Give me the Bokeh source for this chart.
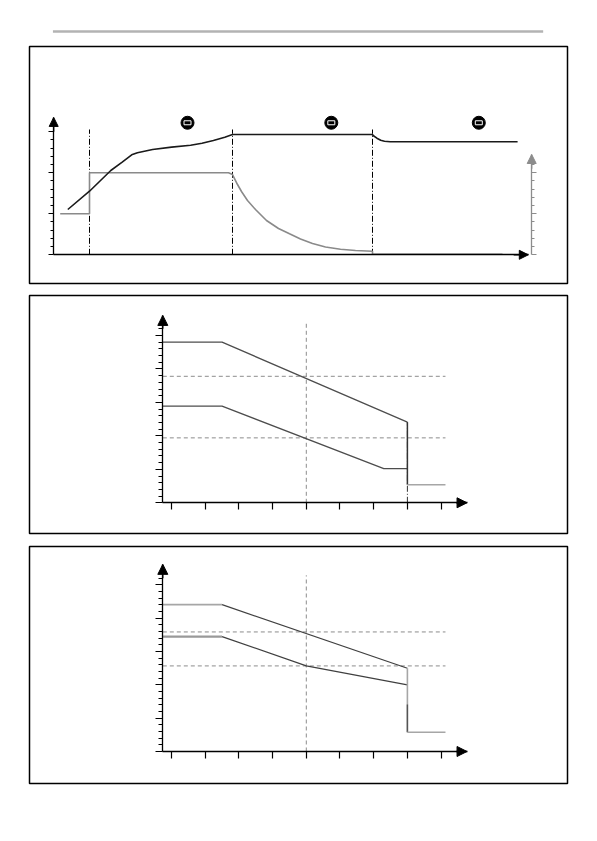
from bokeh.plotting import figure
from bokeh.layouts import column
from bokeh.models import Range1d, LinearAxis, FixedTicker, Arrow, NormalHead, CustomJSTickFormatter
from bokeh.embed import file_html
from bokeh.resources import INLINE

# ---------------- data ----------------
# header rule
rule_x = [26, 570]
rule_y = [7, 7]

# panel 1 : charging curve (time in arbitrary units)
volt_t = [1.41, 3.58, 5.71, 6.85, 7.80, 8.37, 9.89, 11.79, 13.69, 14.83, 15.97, 17.11, 17.88,
          31.88, 31.94, 32.32, 32.70, 33.08, 33.65, 46.39]
volt_v = [1.105, 1.551, 2.056, 2.259, 2.439, 2.488, 2.568, 2.625, 2.673, 2.722, 2.788, 2.868, 2.934,
          2.934, 2.91, 2.844, 2.795, 2.771, 2.756, 2.756]
cur_t = [0.65, 3.58, 3.58, 17.48, 17.88, 18.08, 18.38, 18.78, 19.38, 20.18, 21.28, 22.48, 23.58,
         24.68, 25.88, 27.18, 28.68, 30.18, 31.88, 31.88, 44.88]
cur_a = [5.0, 5.0, 10.0, 10.0, 9.79, 9.30, 8.57, 7.72, 6.62, 5.52, 4.18, 3.21, 2.56,
         1.93, 1.38, 0.95, 0.67, 0.52, 0.44, 0.06, 0.06]
phase_t = [3.58, 17.88, 31.88]
phase_top = [3.056, 3.056, 3.056]
icon_t = [13.38, 27.76, 42.51]
icon_y = [3.22, 3.22, 3.22]
p1_yticks = [0, 1, 2, 3]
p1_yminor = [0.2, 0.4, 0.6, 0.8, 1.2, 1.4, 1.6, 1.8, 2.2, 2.4, 2.6, 2.8]
p1_cticks = [0, 5, 10]
p1_cminor = [1, 2, 3, 4, 6, 7, 8, 9, 11]

# panels 2 & 3 : temperature compensation (x in deg C)
temp_ticks = [-20, -10, 0, 10, 20, 30, 40, 50, 60]
v_ticks = [0, 1, 2, 3, 4, 5]
v_minor = [0.2, 0.4, 0.6, 0.8, 1.2, 1.4, 1.6, 1.8, 2.2, 2.4, 2.6, 2.8,
           3.2, 3.4, 3.6, 3.8, 4.2, 4.4, 4.6, 4.8, 5.2]
x_axis_pos = -22.58
x_axis_end = 67.7
ref_temp = 20
cut_temp = 50
end_temp = 61.3

p2_upper_t = [-22.58, -5, 50]
p2_upper_v = [4.80, 4.80, 2.41]
p2_lower_t = [-22.58, -5, 43, 50]
p2_lower_v = [2.89, 2.89, 1.02, 1.02]
p2_drop_v = [2.41, 0.54]
p2_cut_v = 0.54
p2_ref_h = [3.78, 1.94]
p2_ref_top = 5.35

p3_upper_flat_t = [-22.58, -5]
p3_upper_flat_v = [4.41, 4.41]
p3_upper_t = [-5, 50]
p3_upper_v = [4.41, 2.50]
p3_lower_flat_t = [-22.58, -5]
p3_lower_flat_v = [3.45, 3.45]
p3_lower_t = [-5, 20, 50]
p3_lower_v = [3.45, 2.57, 2.00]
p3_drop_v = [2.50, 0.58]
p3_drop_dark_v = [1.41, 0.58]
p3_cut_v = 0.58
p3_ref_h = [3.59, 2.57]
p3_ref_top = 5.29

W = 597

# ---------------- helpers ----------------
def new_fig(h, xr, yr, top, bottom):
    p = figure(width=W, height=h, x_range=Range1d(*xr), y_range=Range1d(*yr),
               x_axis_type=None, y_axis_type=None, toolbar_location=None,
               output_backend="svg", min_border_left=29, min_border_right=30,
               min_border_top=top, min_border_bottom=bottom)
    p.outline_line_color = "black"
    p.outline_line_width = 1.5
    p.background_fill_color = "white"
    p.border_fill_color = "white"
    return p


def style_axis(ax, color, major_out, minor_out, lw=1.3):
    ax.axis_line_color = color
    ax.axis_line_width = lw
    ax.major_tick_line_color = color
    ax.major_tick_line_width = 1.2
    ax.minor_tick_line_color = color if minor_out else None
    ax.minor_tick_line_width = 1
    ax.major_tick_in = 0
    ax.major_tick_out = major_out
    ax.minor_tick_in = 0
    ax.minor_tick_out = minor_out
    ax.major_label_text_font_size = "0px"
    ax.major_label_standoff = 0
    ax.formatter = CustomJSTickFormatter(code="return ''")
    return ax


def arrow(p, xs, ys, xe, ye, color="black", size=8, rng=None):
    kw = {}
    if rng:
        kw["y_range_name"] = rng
    p.add_layout(Arrow(end=NormalHead(size=size, fill_color=color, line_color=color, line_width=1),
                       x_start=xs, y_start=ys, x_end=xe, y_end=ye,
                       line_color=color, line_width=1.3, **kw))


# ---------------- header rule ----------------
p0 = figure(width=W, height=38, x_range=Range1d(0, W), y_range=Range1d(0, 38),
            x_axis_type=None, y_axis_type=None, toolbar_location=None,
            output_backend="svg", min_border=0)
p0.outline_line_color = None
p0.line(rule_x, rule_y, line_color="#b3b3b3", line_width=2.5)

# ---------------- panel 1 ----------------
p1 = new_fig(251, (-2.42, 51.38), (-0.7, 5.08), 8, 6)
p1.extra_y_ranges = {"cur": Range1d(-3.5, 25.4)}

ax = LinearAxis(fixed_location=0, bounds=(0, 3.35),
                ticker=FixedTicker(ticks=p1_yticks, minor_ticks=p1_yminor))
p1.add_layout(style_axis(ax, "black", 5, 3), "left")
ax = LinearAxis(fixed_location=0, bounds=(0, 47.46), ticker=FixedTicker(ticks=[]))
p1.add_layout(style_axis(ax, "black", 0, 0), "below")
ax = LinearAxis(y_range_name="cur", fixed_location=47.8, bounds=(0, 12.23),
                ticker=FixedTicker(ticks=p1_cticks, minor_ticks=p1_cminor))
p1.add_layout(style_axis(ax, "#8c8c8c", 5, 3), "right")
arrow(p1, 0, 3.0, 0, 3.35, size=9)
arrow(p1, 46.0, 0, 47.46, 0, size=9)
arrow(p1, 47.8, 10.5, 47.8, 12.23, color="#8c8c8c", size=9, rng="cur")

p1.segment(x0=phase_t, y0=[0, 0, 0], x1=phase_t, y1=phase_top,
           line_color="black", line_width=1, line_dash="6 2 1 2")
p1.line(cur_t, cur_a, y_range_name="cur", line_color="#8a8a8a", line_width=1.6)
p1.line(volt_t, volt_v, line_color="#1a1a1a", line_width=1.6)
p1.scatter(icon_t, icon_y, size=13, color="black")
p1.rect(icon_t, icon_y, width=7, height=4, width_units="screen", height_units="screen",
        fill_color="black", line_color="white", line_width=1)

# ---------------- panel 2 ----------------
p2 = new_fig(250, (-62.14, 97.51), (-0.918, 6.195), 6, 6)
ax = LinearAxis(fixed_location=x_axis_pos, bounds=(0, 5.6),
                ticker=FixedTicker(ticks=v_ticks, minor_ticks=v_minor))
p2.add_layout(style_axis(ax, "black", 7, 4), "left")
ax = LinearAxis(fixed_location=0, bounds=(x_axis_pos, x_axis_end),
                ticker=FixedTicker(ticks=temp_ticks))
p2.add_layout(style_axis(ax, "black", 7, 0), "below")
arrow(p2, x_axis_pos, 5.2, x_axis_pos, 5.6, size=10)
arrow(p2, 64.5, 0, x_axis_end, 0, size=10)

p2.segment(x0=[ref_temp], y0=[0], x1=[ref_temp], y1=[p2_ref_top],
           line_color="#8c8c8c", line_width=1, line_dash="4 3")
p2.segment(x0=[x_axis_pos] * 2, y0=p2_ref_h, x1=[end_temp] * 2, y1=p2_ref_h,
           line_color="#8c8c8c", line_width=1, line_dash="4 3")
p2.segment(x0=[cut_temp], y0=[0], x1=[cut_temp], y1=[p2_upper_v[-1]],
           line_color="#333333", line_width=1, line_dash="6 2 1 2")
p2.line(p2_upper_t, p2_upper_v, line_color="#4d4d4d", line_width=1.3)
p2.line(p2_lower_t, p2_lower_v, line_color="#4d4d4d", line_width=1.3)
p2.line([cut_temp, cut_temp], p2_drop_v, line_color="#333333", line_width=1.5)
p2.line([cut_temp, end_temp], [p2_cut_v, p2_cut_v], line_color="#a6a6a6", line_width=1.6)

# ---------------- panel 3 ----------------
p3 = new_fig(250, (-62.14, 97.51), (-0.961, 6.156), 7, 6)
ax = LinearAxis(fixed_location=x_axis_pos, bounds=(0, 5.62),
                ticker=FixedTicker(ticks=v_ticks, minor_ticks=v_minor))
p3.add_layout(style_axis(ax, "black", 7, 4), "left")
ax = LinearAxis(fixed_location=0, bounds=(x_axis_pos, x_axis_end),
                ticker=FixedTicker(ticks=temp_ticks))
p3.add_layout(style_axis(ax, "black", 7, 0), "below")
arrow(p3, x_axis_pos, 5.2, x_axis_pos, 5.62, size=10)
arrow(p3, 64.5, 0, x_axis_end, 0, size=10)

p3.segment(x0=[ref_temp], y0=[0], x1=[ref_temp], y1=[p3_ref_top],
           line_color="#8c8c8c", line_width=1, line_dash="4 3")
p3.segment(x0=[x_axis_pos] * 2, y0=p3_ref_h, x1=[end_temp] * 2, y1=p3_ref_h,
           line_color="#8c8c8c", line_width=1, line_dash="4 3")
p3.line(p3_upper_flat_t, p3_upper_flat_v, line_color="#a6a6a6", line_width=1.6)
p3.line(p3_upper_t, p3_upper_v, line_color="#404040", line_width=1.2)
p3.line(p3_lower_flat_t, p3_lower_flat_v, line_color="#999999", line_width=2.2)
p3.line(p3_lower_t, p3_lower_v, line_color="#404040", line_width=1.2)
p3.line([cut_temp, cut_temp], p3_drop_v, line_color="#a6a6a6", line_width=1.6)
p3.line([cut_temp, cut_temp], p3_drop_dark_v, line_color="#555555", line_width=1.4)
p3.line([cut_temp, end_temp], [p3_cut_v, p3_cut_v], line_color="#a6a6a6", line_width=1.6)

layout = column(p0, p1, p2, p3, spacing=0)
open("out.html", "w").write(file_html(layout, INLINE))
